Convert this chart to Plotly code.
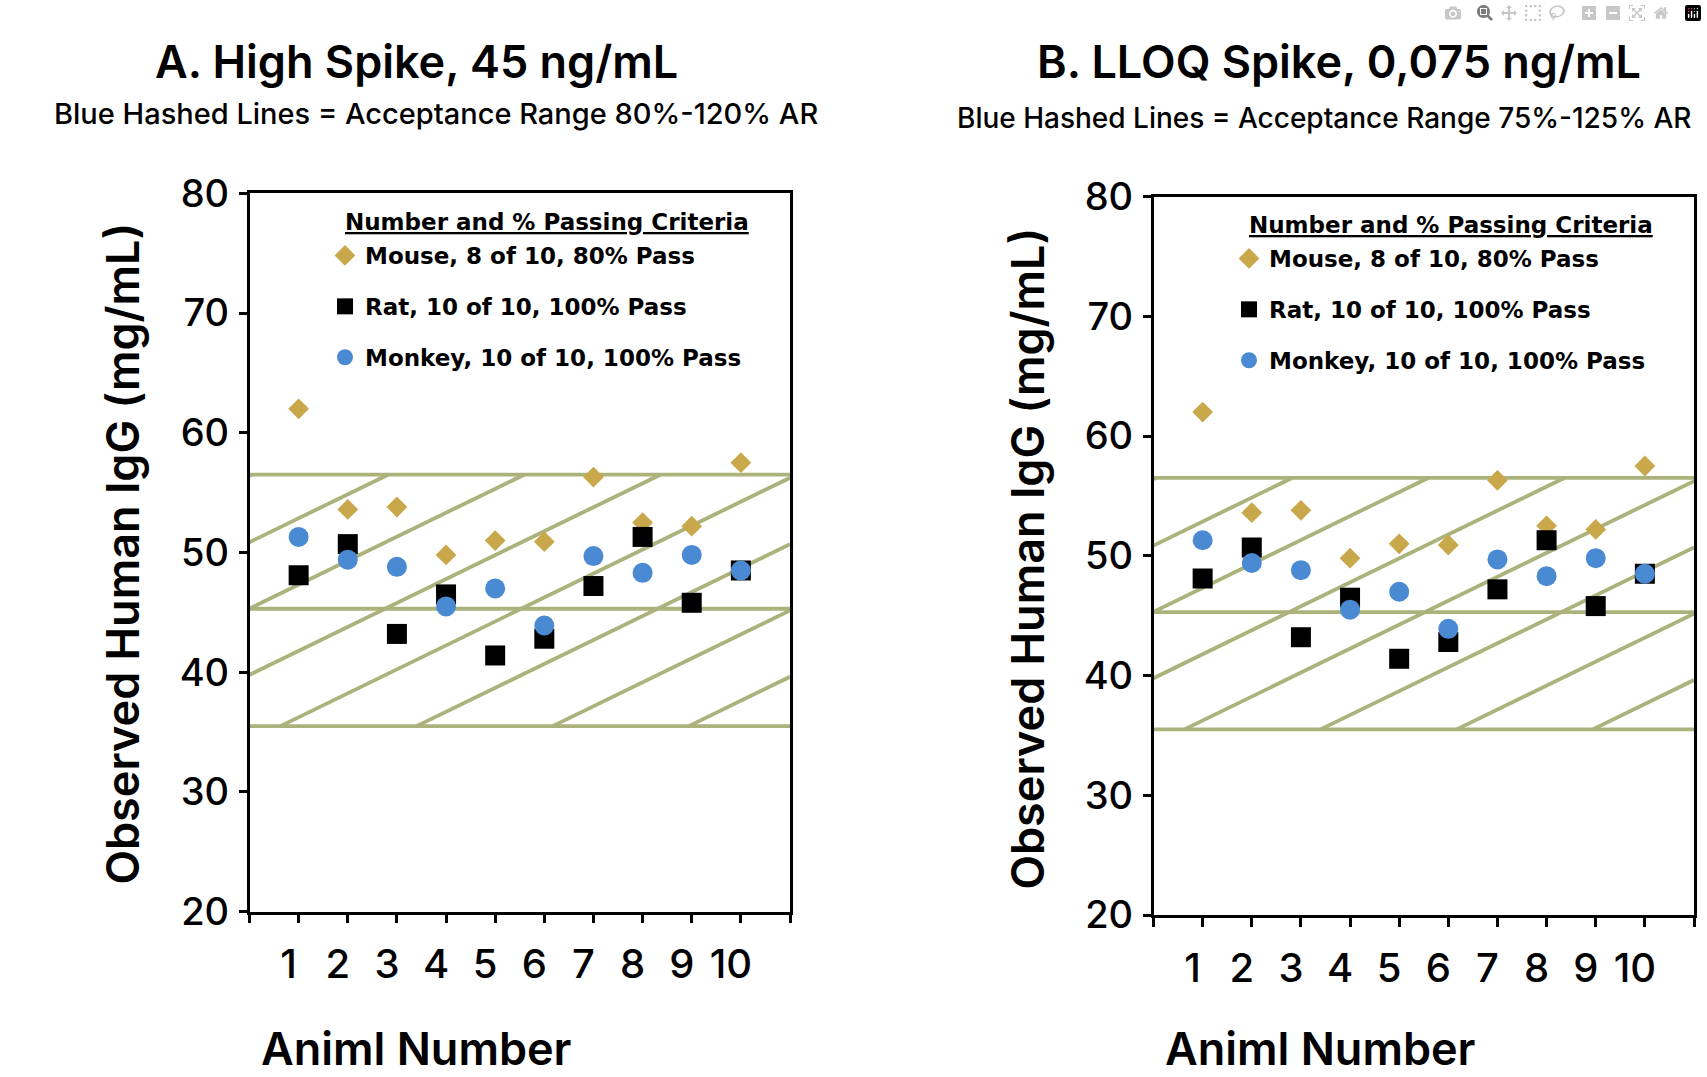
import plotly.graph_objects as go

# ---------------- data ----------------
animals = list(range(1, 11))
x_tick_vals = list(range(0, 12))
x_tick_text = [""] + [str(i) for i in range(1, 11)] + [""]
y_tick_vals = [20, 30, 40, 50, 60, 70, 80]

mouse = [62.0, 53.6, 53.8, 49.8, 51.0, 50.9, 56.3, 52.5, 52.2, 57.5]
rat = [48.1, 50.7, 43.2, 46.5, 41.4, 42.8, 47.2, 51.3, 45.8, 48.5]
monkey = [51.3, 49.4, 48.8, 45.5, 47.0, 43.9, 49.7, 48.3, 49.8, 48.5]

band_levels = [35.5, 45.3, 56.5]

series_names = ["Mouse, 8 of 10, 80% Pass", "Rat, 10 of 10, 100% Pass",
                "Monkey, 10 of 10, 100% Pass"]

title_a = "A. High Spike, 45 ng/mL"
subtitle_a = "Blue Hashed Lines = Acceptance Range 80%-120% AR"
title_b = "B. LLOQ Spike, 0,075 ng/mL"
subtitle_b = "Blue Hashed Lines = Acceptance Range 75%-125% AR"
y_title = "Observed Human IgG (mg/mL)"
x_title = "Animl Number"
legend_title = "Number and % Passing Criteria"

# ---------------- style ----------------
W, H = 1707, 1077
GOLD = "#c8a84a"
BLUE = "#4a8ad3"
HATCH = "#abb27c"
FONT = "Inter"
LEG_FONT = "DejaVu Sans"

hatch_slope = 2.0
hatch_spacing = 2.77
hatch_phase = 0.63
x_min, x_max = 0, 11
y_min, y_max = 20, 80

panels = [
    dict(xa="x", ya="y", xd=[249.5 / W, 790 / W], yd=[1 - 911.7 / H, 1 - 193.3 / H],
         legend="legend", dx=0, dy=0),
    dict(xa="x2", ya="y2", xd=[1153.5 / W, 1694 / W], yd=[1 - 915 / H, 1 - 196.6 / H],
         legend="legend2", dx=904, dy=3),
]

fig = go.Figure()
styles = [
    dict(symbol="diamond", size=16, color=GOLD),
    dict(symbol="square", size=20, color="black"),
    dict(symbol="circle", size=20, color=BLUE),
]
values = [mouse, rat, monkey]

shapes = []
for p in panels:
    for name, vals, st in zip(series_names, values, styles):
        fig.add_trace(go.Scatter(
            x=animals, y=vals, mode="markers", name=name,
            xaxis=p["xa"], yaxis=p["ya"], legend=p["legend"],
            legendgroup=p["legend"] + name,
            marker=dict(symbol=st["symbol"], size=st["size"], color=st["color"],
                        line=dict(width=0)),
            hoverinfo="x+y",
        ))
    # horizontal band lines
    for lv in band_levels:
        shapes.append(dict(type="line", xref=p["xa"], yref=p["ya"], x0=x_min, x1=x_max,
                           y0=lv, y1=lv, layer="below",
                           line=dict(color=HATCH, width=3.8)))
    # diagonal hatching between lowest and highest band lines
    lo, hi = band_levels[0], band_levels[-1]
    run = (hi - lo) / hatch_slope
    k = -10
    while True:
        b = hatch_phase + k * hatch_spacing
        k += 1
        if b > x_max:
            break
        xs = max(x_min, b)
        xe = min(x_max, b + run)
        if xe <= xs:
            continue
        ys = lo + hatch_slope * (xs - b)
        ye = lo + hatch_slope * (xe - b)
        shapes.append(dict(type="line", xref=p["xa"], yref=p["ya"], x0=xs, x1=xe,
                           y0=ys, y1=ye, layer="below",
                           line=dict(color=HATCH, width=3.8)))

axis_common = dict(showline=True, linewidth=2.5, linecolor="black", mirror=True,
                   showgrid=False, zeroline=False, ticks="outside", tickcolor="black",
                   tickwidth=2.5, automargin=False)

layout = dict(
    width=W, height=H, margin=dict(l=0, r=0, t=0, b=0, autoexpand=False),
    paper_bgcolor="white", plot_bgcolor="white",
    font=dict(family=FONT, color="black"),
    shapes=shapes,
    hovermode="closest",
)

for i, p in enumerate(panels):
    suffix = "" if i == 0 else "2"
    layout["xaxis" + suffix] = dict(
        axis_common, domain=p["xd"], range=[x_min, x_max], anchor="y" + suffix,
        tickmode="array", tickvals=x_tick_vals, ticktext=x_tick_text, ticklen=9,
        tickfont=dict(family=FONT, size=40, weight=500), ticklabelstandoff=7,
        ticklabelshift=-10,
    )
    layout["yaxis" + suffix] = dict(
        axis_common, domain=p["yd"], range=[y_min, y_max], anchor="x" + suffix,
        tickmode="array", tickvals=y_tick_vals, ticklen=8,
        tickfont=dict(family=FONT, size=38, weight=500), ticklabelstandoff=2,
    )
    layout[p["legend"]] = dict(
        x=(325 + p["dx"]) / W, y=1 - (234 + p["dy"]) / H, xanchor="left", yanchor="top",
        bgcolor="rgba(0,0,0,0)", traceorder="grouped", tracegroupgap=18,
        font=dict(family=LEG_FONT, size=23, weight="bold", color="black"),
        itemwidth=30,
    )

annotations = [
    dict(text=title_a, x=383 * 1.0887 / W, y=1 - 62 / H, font=dict(size=45, weight=600)),
    dict(text=subtitle_a, x=435.5 / W, y=1 - 114 / H, font=dict(size=29, weight=500)),
    dict(text=title_b, x=1339 / W, y=1 - 62 / H, font=dict(size=45, weight=600)),
    dict(text=subtitle_b, x=955 / W, y=1 - 117.6 / H, xanchor="left",
         font=dict(size=28, weight=500)),
    dict(text=y_title, x=123 / W, y=1 - 553.6 / H, textangle=-90,
         font=dict(size=45, weight=600)),
    dict(text=y_title, x=1026.6 / W, y=1 - 559 / H, textangle=-90,
         font=dict(size=45, weight=600)),
    dict(text=x_title, x=416 / W, y=1 - 1048 / H, font=dict(size=45, weight=600)),
    dict(text=x_title, x=1320 / W, y=1 - 1048 / H, font=dict(size=45, weight=600)),
    dict(text='<span style="text-decoration:underline">' + legend_title + '</span>',
         x=343 / W, y=1 - 222 / H, xanchor="left",
         font=dict(family=LEG_FONT, size=23, weight="bold")),
    dict(text='<span style="text-decoration:underline">' + legend_title + '</span>',
         x=(343 + 904) / W, y=1 - 225 / H, xanchor="left",
         font=dict(family=LEG_FONT, size=23, weight="bold")),
]
for a in annotations:
    a.setdefault("xanchor", "center")
    a.update(xref="paper", yref="paper", yanchor="middle", showarrow=False)
    a["font"].setdefault("family", FONT)
    a["font"].setdefault("color", "black")
layout["annotations"] = annotations

fig.update_layout(**layout)

fig.write_html("out.html", post_script="document.body.style.margin='0';document.body.style.overflow='hidden';")
